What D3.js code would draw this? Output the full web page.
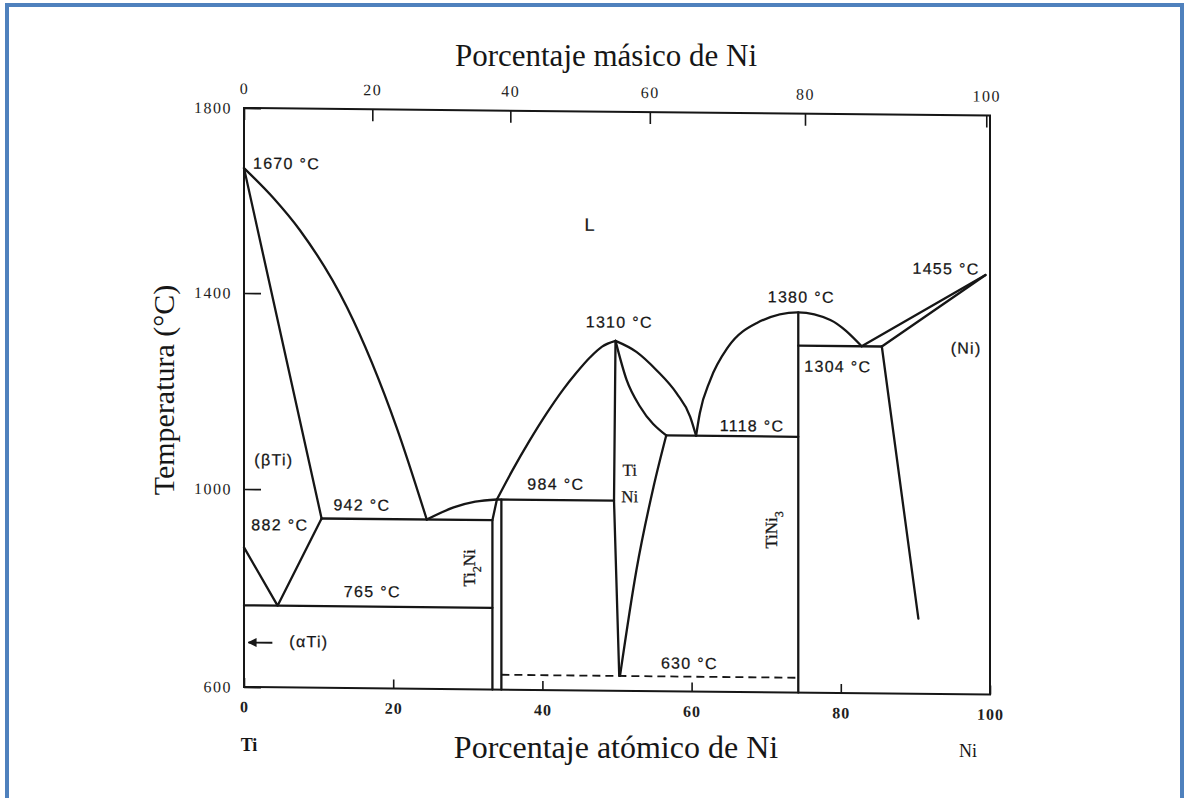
<!DOCTYPE html>
<html>
<head>
<meta charset="utf-8">
<title>Diagrama de fases Ti-Ni</title>
<script src="https://cdn.jsdelivr.net/npm/d3@7"></script>
<style>
  body { margin: 0; background: #fff; }
  svg { display: block; }
</style>
</head>
<body>
<svg id="chart"></svg>
<script>
// ---- values (composition in at.% Ni, temperature in °C) ----
const atTicks = [0, 20, 40, 60, 80, 100];
const tempTicks = [600, 1000, 1400, 1800];
const massTicks = [0, 20, 40, 60, 80, 100];
// where each wt.% tick sits on the at.% axis
const massTickAt = [0, 17.2, 35.7, 54.4, 75.2, 99.5];

const tiLiquidus = [[0, 1670], [4, 1605], [7.5, 1537], [13.8, 1373], [20.5, 1127], [24.5, 942]];
const betaSolidus = [[0, 1670], [10.4, 942]];
const betaTransus = [[0, 882], [4.5, 765], [10.4, 942]];
const eutectic942 = [[10.4, 942], [33.3, 942]];
const eutectoid765 = [[0, 765], [33.3, 765]];
const ti2NiLiquidus = [[24.5, 942], [28.1, 967], [31, 979], [33.9, 984]];
const ti2NiLeft = [[33.3, 600], [33.3, 942], [33.9, 984]];
const ti2NiRight = [[34.5, 600], [34.5, 984]];
const peritectic984 = [[33.9, 984], [49.6, 984]];
const tiNiLiquidusL = [[33.9, 984], [36, 1044], [38.3, 1105], [40.5, 1159], [42.8, 1210], [44.5, 1243], [46.4, 1276], [48, 1298], [49.8, 1310]];
const tiNiLiquidusR = [[49.8, 1310], [52.6, 1288], [55.3, 1251], [58, 1204], [59.8, 1157], [60.6, 1118]];
const tiNiSolidusR = [[49.8, 1310], [51.3, 1230], [53.1, 1176], [56.6, 1118]];
const tiNiLeft = [[49.8, 1310], [49.6, 984], [50.3, 630]];
const tiNiRight = [[50.4, 630], [52.6, 844], [54.9, 1013], [56.6, 1118]];
const eutectic1118 = [[56.6, 1118], [74.3, 1118]];
const tiNi3Liquidus = [[60.6, 1118], [61.1, 1164], [62.5, 1232], [64.9, 1300], [68.7, 1349], [74.3, 1372], [78.6, 1357], [82.8, 1304]];
const tiNi3Line = [[74.3, 600], [74.3, 1372]];
const eutectic1304 = [[74.3, 1304], [85.5, 1304]];
const niLiquidus = [[82.8, 1304], [99.4, 1455]];
const niSolidus = [[85.5, 1304], [99.4, 1455]];
const niSolvus = [[85.5, 1304], [90.4, 752]];
const eutectoid630 = [[34.5, 630], [74.3, 630]];
const alphaArrow = [[3.8, 690], [0.6, 690]];

const W = 1188, H = 798;
const serif = "'Liberation Serif', 'Times New Roman', serif";
const sans = "'Liberation Sans', Arial, sans-serif";
const ink = '#161616';

const svg = d3.select('#chart')
  .attr('width', W)
  .attr('height', H);

// blue page frame
svg.append('rect')
  .attr('x', 7).attr('y', 5)
  .attr('width', 1175).attr('height', H + 20)
  .attr('fill', 'none')
  .attr('stroke', '#4f81bd')
  .attr('stroke-width', 4);

const x = d3.scaleLinear().domain([0, 100]).range([244, 990]);
const y = d3.scaleLinear().domain([600, 1000, 1400, 1800]).range([687, 489, 293, 108]);
const xMass = d3.scaleLinear().domain(massTicks).range(massTickAt.map(x));

// the scan is a bit sheared: the whole diagram drifts down ~7px from left to right
const plot = svg.append('g')
  .attr('transform', `translate(${x(0)},0) skewY(0.58) translate(${-x(0)},0)`);

// Axes
const styleAxis = (g, bold, spacing) => {
  g.select('.domain').remove();
  g.selectAll('.tick line').attr('stroke', ink).attr('stroke-width', 1.6);
  g.selectAll('.tick text')
    .attr('fill', '#1e1e1e')
    .style('font-family', serif)
    .style('font-size', '16px')
    .style('letter-spacing', spacing)
    .style('font-weight', bold ? 'bold' : 'normal');
};

plot.append('g')
  .attr('transform', `translate(0,${y(600)})`)
  .call(d3.axisBottom(x).tickValues(atTicks).tickFormat(d3.format('d'))
    .tickSizeInner(-9).tickSizeOuter(0).tickPadding(14))
  .call(g => styleAxis(g, true, '1px'));

plot.append('g')
  .attr('transform', `translate(0,${y(1800)})`)
  .call(d3.axisTop(xMass).tickValues(massTicks).tickFormat(d3.format('d'))
    .tickSizeInner(-12).tickSizeOuter(0).tickPadding(14))
  .call(g => styleAxis(g, false, '1.5px'));

plot.append('g')
  .attr('transform', `translate(${x(0)},0)`)
  .call(d3.axisLeft(y).tickValues(tempTicks).tickFormat(d3.format('d'))
    .tickSizeInner(-17).tickSizeOuter(0).tickPadding(12))
  .call(g => styleAxis(g, false, '1.5px'));

// plot box
plot.append('path')
  .attr('d', `M${x(0)},${y(600)}V${y(1800)}H${x(100)}V${y(600)}Z`)
  .attr('fill', 'none')
  .attr('stroke', ink)
  .attr('stroke-width', 2);

// Phase boundaries
const curved = d3.curveMonotoneX;
const boundaries = [
  { pts: tiLiquidus, curve: curved },
  { pts: betaSolidus, curve: d3.curveLinear },
  { pts: betaTransus, curve: d3.curveLinear },
  { pts: eutectic942, curve: d3.curveLinear },
  { pts: eutectoid765, curve: d3.curveLinear },
  { pts: ti2NiLiquidus, curve: curved },
  { pts: ti2NiLeft, curve: d3.curveLinear },
  { pts: ti2NiRight, curve: d3.curveLinear },
  { pts: peritectic984, curve: d3.curveLinear },
  { pts: tiNiLiquidusL, curve: curved },
  { pts: tiNiLiquidusR, curve: curved },
  { pts: tiNiSolidusR, curve: curved },
  { pts: tiNiLeft, curve: d3.curveLinear },
  { pts: tiNiRight, curve: curved },
  { pts: eutectic1118, curve: d3.curveLinear },
  { pts: tiNi3Liquidus, curve: curved },
  { pts: tiNi3Line, curve: d3.curveLinear },
  { pts: eutectic1304, curve: d3.curveLinear },
  { pts: niLiquidus, curve: d3.curveLinear },
  { pts: niSolidus, curve: d3.curveLinear },
  { pts: niSolvus, curve: d3.curveLinear }
];

plot.selectAll('path.boundary')
  .data(boundaries)
  .join('path')
  .attr('class', 'boundary')
  .attr('d', d => d3.line().x(p => x(p[0])).y(p => y(p[1])).curve(d.curve)(d.pts))
  .attr('fill', 'none')
  .attr('stroke', ink)
  .attr('stroke-width', 2.3)
  .attr('stroke-linejoin', 'round')
  .attr('stroke-linecap', 'round');

// 630 °C dashed line
plot.append('path')
  .attr('d', d3.line().x(p => x(p[0])).y(p => y(p[1]))(eutectoid630))
  .attr('fill', 'none')
  .attr('stroke', ink)
  .attr('stroke-width', 1.8)
  .attr('stroke-dasharray', '8,5');

// arrow to the (αTi) field
svg.append('defs').append('marker')
  .attr('id', 'arrow')
  .attr('viewBox', '0 0 10 10')
  .attr('refX', 9).attr('refY', 5)
  .attr('markerWidth', 5).attr('markerHeight', 5)
  .attr('orient', 'auto')
  .append('path')
  .attr('d', 'M0,0L10,5L0,10Z')
  .attr('fill', ink);

plot.append('path')
  .attr('d', d3.line().x(p => x(p[0])).y(p => y(p[1]))(alphaArrow))
  .attr('stroke', ink)
  .attr('stroke-width', 1.8)
  .attr('marker-end', 'url(#arrow)');

// Labels inside the diagram
const labels = [
  { text: '1670 °C', at: 1.2, t: 1669, anchor: 'start' },
  { text: 'L', at: 46.4, t: 1542, size: 18 },
  { text: '1310 °C', at: 50.3, t: 1337 },
  { text: '1380 °C', at: 74.7, t: 1392 },
  { text: '1455 °C', at: 94.1, t: 1456 },
  { text: '(Ni)', at: 96.8, t: 1291 },
  { text: '1304 °C', at: 79.6, t: 1251 },
  { text: '1118 °C', at: 68.1, t: 1128 },
  { text: 'Ti', at: 51.7, t: 1035, font: serif, size: 17 },
  { text: 'Ni', at: 51.7, t: 981, font: serif, size: 17 },
  { text: '984 °C', at: 41.8, t: 1005 },
  { text: '942 °C', at: 15.8, t: 959 },
  { text: '882 °C', at: 4.8, t: 917 },
  { text: '(βTi)', at: 4.0, t: 1049 },
  { text: '765 °C', at: 17.2, t: 784 },
  { text: '(αTi)', at: 8.7, t: 682 },
  { text: '630 °C', at: 59.7, t: 646 }
];

plot.selectAll('text.label')
  .data(labels)
  .join('text')
  .attr('class', 'label')
  .attr('x', d => x(d.at))
  .attr('y', d => y(d.t))
  .attr('text-anchor', d => d.anchor || 'middle')
  .attr('fill', ink)
  .attr('stroke', ink)
  .attr('stroke-width', 0.25)
  .style('font-family', d => d.font || sans)
  .style('font-size', d => (d.size || 16) + 'px')
  .style('letter-spacing', d => d.font ? '0px' : '1.3px')
  .text(d => d.text);

// vertical compound names
const compounds = [
  { name: 'Ti', sub: '2', rest: 'Ni', at: 30.4, t: 845 },
  { name: 'TiNi', sub: '3', rest: '', at: 70.9, t: 928 }
];

compounds.forEach(c => {
  const txt = plot.append('text')
    .attr('transform', `translate(${x(c.at)},${y(c.t)}) rotate(-90)`)
    .attr('text-anchor', 'middle')
    .attr('dominant-baseline', 'middle')
    .attr('fill', ink)
    .attr('stroke', ink)
    .attr('stroke-width', 0.3)
    .style('font-family', serif)
    .style('font-size', '17px');
  txt.append('tspan').text(c.name);
  txt.append('tspan').attr('baseline-shift', 'sub').style('font-size', '12px').text(c.sub);
  if (c.rest) txt.append('tspan').text(c.rest);
});

// Axis titles (outside the sheared group)
svg.append('text')
  .attr('x', 606).attr('y', 66)
  .attr('text-anchor', 'middle')
  .attr('fill', ink)
  .style('font-family', serif)
  .style('font-size', '31px')
  .text('Porcentaje másico de Ni');

svg.append('text')
  .attr('x', 616).attr('y', 758)
  .attr('text-anchor', 'middle')
  .attr('fill', ink)
  .style('font-family', serif)
  .style('font-size', '32px')
  .text('Porcentaje atómico de Ni');

svg.append('text')
  .attr('transform', 'translate(174,390) rotate(-90)')
  .attr('text-anchor', 'middle')
  .attr('fill', ink)
  .style('font-family', serif)
  .style('font-size', '30px')
  .text('Temperatura (°C)');

svg.append('text')
  .attr('x', 249).attr('y', 751)
  .attr('text-anchor', 'middle')
  .attr('fill', ink)
  .style('font-family', serif)
  .style('font-size', '18px')
  .style('font-weight', 'bold')
  .text('Ti');

svg.append('text')
  .attr('x', 968).attr('y', 757)
  .attr('text-anchor', 'middle')
  .attr('fill', ink)
  .style('font-family', serif)
  .style('font-size', '18px')
  .text('Ni');
</script>
</body>
</html>
